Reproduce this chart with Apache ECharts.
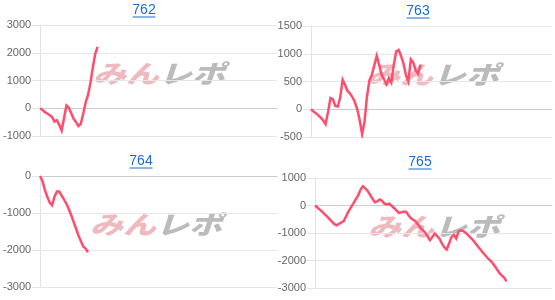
<!DOCTYPE html>
<html>
<head>
<meta charset="utf-8">
<script src="https://cdn.jsdelivr.net/npm/echarts@6/dist/echarts.min.js"></script>
<style>
html,body{margin:0;padding:0;background:#fff;}
#chart{width:555px;height:300px;}
</style>
</head>
<body>
<div id="chart"></div>
<script>
// ---- data ----
const titles = ['762', '763', '764', '765'];
const slotCount = 100;
const categories = Array.from({length: slotCount}, (_, i) => String(i + 1));

const values762 = [0, -60, -140, -190, -250, -320, -480, -430, -600, -800, -350, 100, 20, -180,
  -380, -500, -640, -560, -200, 200, 470, 900, 1450, 1950, 2210];
const values763 = [0, -40, -70, -110, -150, -200, -270, -50, 200, 180, 60, 50, 210, 530, 440,
  330, 285, 220, 130, 0, -200, -450, -220, 230, 520, 620, 790, 960, 800, 620, 540, 450, 560,
  480, 800, 1040, 1070, 960, 820, 620, 500, 900, 840, 700, 640, 800];
const values764 = [0, -140, -380, -560, -720, -790, -560, -420, -420, -530, -640, -750, -900,
  -1060, -1240, -1420, -1600, -1760, -1900, -1960, -2060];
const values765 = [0, -75, -150, -225, -310, -395, -485, -580, -670, -720, -670, -620, -565,
  -390, -215, -70, 70, 220, 360, 570, 695, 625, 530, 390, 250, 115, 145, 215, 170, 70, 40, 65,
  -10, -90, -180, -270, -250, -230, -230, -345, -455, -515, -575, -690, -805, -895, -980, -1120,
  -1260, -1150, -1020, -1110, -1210, -1380, -1520, -1600, -1380, -1150, -1070, -1200, -940, -900,
  -930, -1000, -1090, -1170, -1260, -1370, -1480, -1590, -1700, -1800, -1900, -1990, -2070,
  -2190, -2320, -2450, -2540, -2620, -2760];
const yMins = [-1000, -500, -3000, -3000];
const yMaxs = [3000, 1500, 0, 1000];
const yIntervals = [1000, 500, 1000, 1000];
const watermarkPink = 'みん';
const watermarkGray = 'レポ';

// ---- layout ----
const seriesValues = [values762, values763, values764, values765];
const grids = [
  {left: 39, right: 278, top: 25, bottom: 164},
  {left: 311, right: 3, top: 26, bottom: 163},
  {left: 37, right: 278, top: 176, bottom: 13},
  {left: 315, right: 3, top: 178, bottom: 12}
];
const titlePos = [[144, 10], [418, 11], [141, 161], [420, 162]];
const markPos = [[159, 73], [433, 74], [156, 224], [434, 226]];

const graphic = [];
titles.forEach((t, i) => {
  const [x, y] = titlePos[i];
  graphic.push({
    type: 'text', x: x, y: y, z: 10,
    style: {text: t, font: '14px "Liberation Sans", Arial, sans-serif', fill: '#1a6dd6',
      align: 'center', verticalAlign: 'middle'}
  });
  graphic.push({
    type: 'line', z: 10,
    shape: {x1: x - 11.5, y1: y + 7, x2: x + 11.5, y2: y + 7},
    style: {stroke: '#1a6dd6', lineWidth: 1}
  });
  const [mx, my] = markPos[i];
  graphic.push({
    type: 'group', x: mx, y: my, scaleX: 1.32, z: 1,
    children: [
      {type: 'text', style: {text: watermarkPink,
        font: 'italic 900 25px "Noto Sans CJK JP", sans-serif', fill: 'rgba(226,140,150,0.6)',
        align: 'right', verticalAlign: 'middle'}},
      {type: 'text', style: {text: watermarkGray,
        font: 'italic 900 25px "Noto Sans CJK JP", sans-serif', fill: 'rgba(150,150,150,0.65)',
        align: 'left', verticalAlign: 'middle'}}
    ]
  });
});

const option = {
  animation: false,
  backgroundColor: '#fff',
  grid: grids,
  xAxis: grids.map((g, i) => ({
    type: 'category', gridIndex: i, data: categories, boundaryGap: false,
    axisLine: {show: true, onZero: true, lineStyle: {color: '#cccccc', width: 1}},
    axisTick: {show: false}, axisLabel: {show: false}, splitLine: {show: false}
  })),
  yAxis: grids.map((g, i) => ({
    type: 'value', gridIndex: i, min: yMins[i], max: yMaxs[i], interval: yIntervals[i],
    axisLine: {show: true, lineStyle: {color: '#e3e3e3'}},
    axisTick: {show: true, length: 8, lineStyle: {color: '#e3e3e3'}},
    axisLabel: {margin: 9, color: '#666', fontSize: 11,
      fontFamily: '"Liberation Sans", Arial, sans-serif',
      formatter: (val) => String(val)},
    splitLine: {show: true, lineStyle: {color: '#e6e6e6', width: 1}}
  })),
  series: seriesValues.map((v, i) => ({
    type: 'line', xAxisIndex: i, yAxisIndex: i, data: v,
    showSymbol: false, symbol: 'none', smooth: false, z: 5,
    lineStyle: {color: '#ff4d6d', width: 2.5, join: 'miter'},
    itemStyle: {color: '#ff4d6d'}
  })),
  graphic: graphic
};

const chart = echarts.init(document.getElementById('chart'), null, {renderer: 'canvas'});
chart.setOption(option);
</script>
</body>
</html>
